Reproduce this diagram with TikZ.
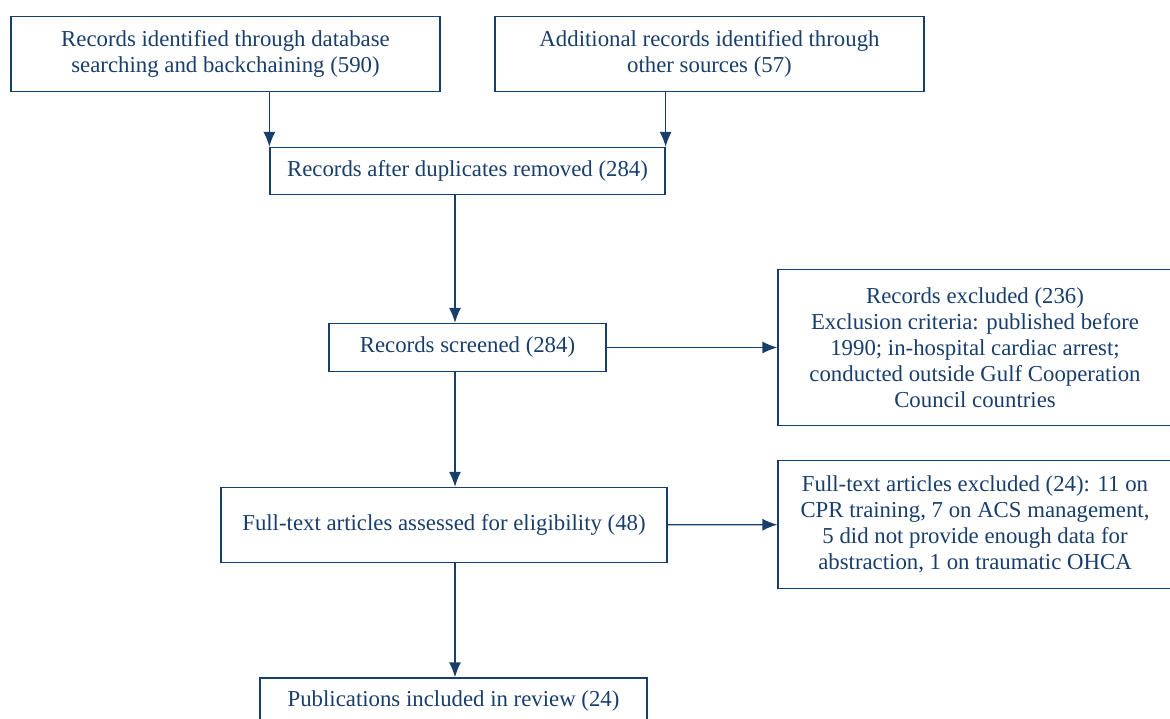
\documentclass[tikz,border=0pt]{standalone}
\usepackage{fontspec}
\setmainfont{Liberation Serif}
\usetikzlibrary{arrows.meta}
\definecolor{navy}{RGB}{24,62,108}
\tikzset{
    box/.style={draw=navy, text=navy, align=center, inner sep=0pt, line width=1.3pt,
      font=\fontsize{22.8}{26}\selectfont}
}
\tikzset{arr/.style={draw=navy, line width=1.3pt, -{Latex[length=15pt, width=12pt]}}}

\begin{document}
\begin{tikzpicture}[x=1pt, y=-1pt]
  \useasboundingbox (0,0) rectangle (1170,718);
  \node (ident) [box, minimum width=429, minimum height=75] at (225.5,54) {Records identified through database\\searching and backchaining (590)};
  \node (other) [box, minimum width=429, minimum height=75] at (709.5,54) {Additional records identified through\\other sources (57)};
  \node (dupl) [box, minimum width=395, minimum height=47] at (467.5,171) {Records after duplicates removed (284)};
  \node (screen) [box, minimum width=277, minimum height=48] at (467.5,347.5) {Records screened (284)};
  \node (excl) [box, minimum width=394, minimum height=156] at (975,347.5) {Records excluded (236)\\Exclusion criteria: published before\\1990; in-hospital cardiac arrest;\\conducted outside Gulf Cooperation\\Council countries};
  \node (full) [box, minimum width=446, minimum height=75] at (444,525) {Full-text articles assessed for eligibility (48)};
  \node (fullex) [box, minimum width=394, minimum height=128] at (975,524.5) {Full-text articles excluded (24): 11 on\\CPR training, 7 on ACS management,\\5 did not provide enough data for\\abstraction, 1 on traumatic OHCA};
  \node (incl) [box, minimum width=387, minimum height=46] at (453.5,701) {Publications included in review (24)};
  \coordinate (spine) at (455,0);

  \draw [arr] (ident.south -| dupl.west) -- (dupl.north west);
  \draw [arr] (other.south -| dupl.east) -- (dupl.north east);
  \draw [arr] (dupl.south -| spine) -- (screen.north -| spine);
  \draw [arr] (screen) -- (excl);
  \draw [arr] (screen.south -| spine) -- (full.north -| spine);
  \draw [arr] (full) -- (fullex);
  \draw [arr] (full.south -| spine) -- (incl.north -| spine);
\end{tikzpicture}
\end{document}
